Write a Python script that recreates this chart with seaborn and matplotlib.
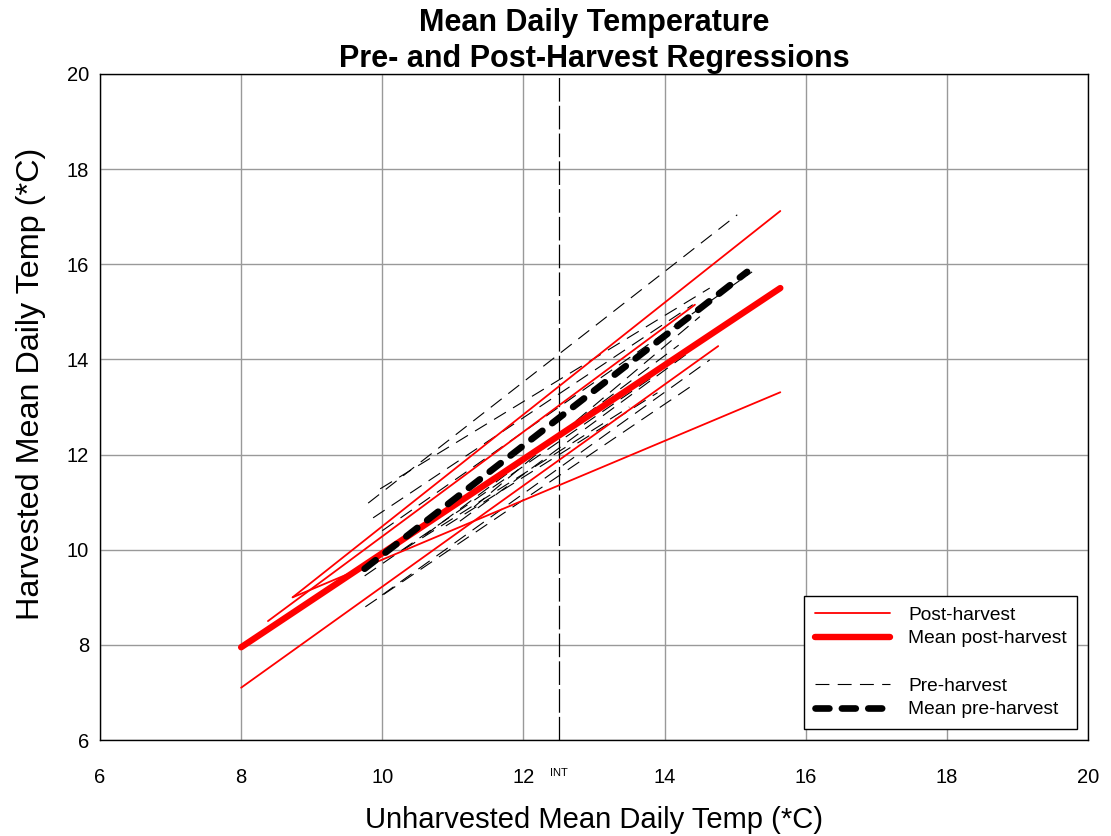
import numpy as np
import pandas as pd
import matplotlib
matplotlib.use("Agg")
import matplotlib.pyplot as plt
import seaborn as sns
from matplotlib.lines import Line2D

# Post-harvest regression lines (start x, start y, end x, end y)
post_x0 = [8.00, 8.73, 8.73, 8.38]
post_y0 = [7.10, 9.00, 9.00, 8.50]
post_x1 = [14.76, 15.64, 15.64, 14.43]
post_y1 = [14.28, 13.31, 17.12, 15.15]

# Mean post-harvest regression
mean_post_x = [8.00, 15.64]
mean_post_y = [7.95, 15.50]

# Pre-harvest regression lines
pre_x0 = [9.80, 9.97, 9.87, 10.00, 9.75, 9.76, 10.00, 10.60, 10.90, 11.10, 10.30, 11.30]
pre_y0 = [10.98, 11.28, 10.67, 10.40, 9.45, 8.80, 9.05, 10.30, 10.50, 10.60, 10.00, 10.90]
pre_x1 = [15.03, 14.64, 14.40, 15.24, 13.80, 14.40, 14.64, 14.20, 13.90, 14.30, 13.50, 14.50]
pre_y1 = [17.04, 15.50, 15.15, 15.84, 13.60, 13.46, 13.99, 14.30, 13.30, 14.10, 13.00, 14.90]

# Mean pre-harvest regression
mean_pre_x = [9.75, 15.17]
mean_pre_y = [9.60, 15.84]

# Intersection marker on the x axis
int_x = 12.5

x_ticks = [6, 8, 10, 12, 14, 16, 18, 20]
y_ticks = [6, 8, 10, 12, 14, 16, 18, 20]


def segments(x0, y0, x1, y1):
    rows = []
    for i, (a, b, c, d) in enumerate(zip(x0, y0, x1, y1)):
        rows.append({"id": i, "x": a, "y": b})
        rows.append({"id": i, "x": c, "y": d})
    return pd.DataFrame(rows)


post_df = segments(post_x0, post_y0, post_x1, post_y1)
pre_df = segments(pre_x0, pre_y0, pre_x1, pre_y1)

sns.set_style("white")
plt.rcParams["font.family"] = ["Liberation Sans", "DejaVu Sans"]
plt.rcParams["lines.scale_dashes"] = False
plt.rcParams["text.color"] = "black"
plt.rcParams["axes.labelcolor"] = "black"

fig = plt.figure(figsize=(11.11, 8.36), dpi=100)
ax = fig.add_axes([0.090, 0.1148, 0.8893, 0.7967])

# Vertical reference line at the intersection
ax.axvline(int_x, color="black", lw=0.9, linestyle=(0, (17, 3)), zorder=2)

sns.lineplot(data=pre_df, x="x", y="y", units="id", estimator=None,
             color="black", lw=0.8, linestyle=(0, (10, 6)), ax=ax, zorder=3)
sns.lineplot(data=post_df, x="x", y="y", units="id", estimator=None,
             color="#ff0000", lw=1.3, ax=ax, zorder=4)
sns.lineplot(x=mean_post_x, y=mean_post_y, color="#ff0000", lw=4.6,
             solid_capstyle="round", ax=ax, zorder=5)
sns.lineplot(x=mean_pre_x, y=mean_pre_y, color="black", lw=4.8,
             linestyle=(0, (10, 9)), dash_capstyle="round", ax=ax, zorder=6)

ax.set_xlim(6, 20)
ax.set_ylim(6, 20)
ax.set_xticks(x_ticks)
ax.set_yticks(y_ticks)
ax.set_xticklabels([str(t) for t in x_ticks])
ax.set_yticklabels([str(t) for t in y_ticks])
ax.grid(True, color="#999999", lw=1.0)
ax.set_axisbelow(True)
for s in ax.spines.values():
    s.set_color("black")
    s.set_linewidth(1.0)
ax.tick_params(axis="both", direction="out", length=6, width=1.0,
               color="black", labelsize=14.5, labelcolor="black")
ax.tick_params(axis="x", pad=14)
ax.tick_params(axis="y", pad=2)

ax.text(int_x, -0.05, "INT", transform=ax.get_xaxis_transform(),
        ha="center", va="center", fontsize=8)

ax.set_xlabel("Unharvested Mean Daily Temp (*C)", fontsize=21, labelpad=14)
ax.set_ylabel("Harvested Mean Daily Temp (*C)", fontsize=23.3)
ax.yaxis.set_label_coords(-0.055, 0.535)
ax.set_title("Mean Daily Temperature\nPre- and Post-Harvest Regressions",
             fontsize=22, fontweight="bold", pad=5, linespacing=1.25)

handles = [
    Line2D([], [], color="#ff0000", lw=1.3),
    Line2D([], [], color="#ff0000", lw=4.6, solid_capstyle="round"),
    Line2D([], [], color="none"),
    Line2D([], [], color="black", lw=0.8, linestyle=(0, (10, 6))),
    Line2D([], [], color="black", lw=4.8, linestyle=(0, (10, 9)), dash_capstyle="round"),
]
labels = ["Post-harvest", "Mean post-harvest", " ", "Pre-harvest", "Mean pre-harvest"]
leg = ax.legend(handles, labels, loc="lower right", bbox_to_anchor=(0.989, 0.0165),
                borderaxespad=0, fontsize=13.8, frameon=True, fancybox=False,
                edgecolor="black", framealpha=1, handlelength=3.9,
                handletextpad=0.95, labelspacing=0.33, borderpad=0.55)
leg.get_frame().set_linewidth(1.0)

fig.savefig("out.png", dpi=100)
